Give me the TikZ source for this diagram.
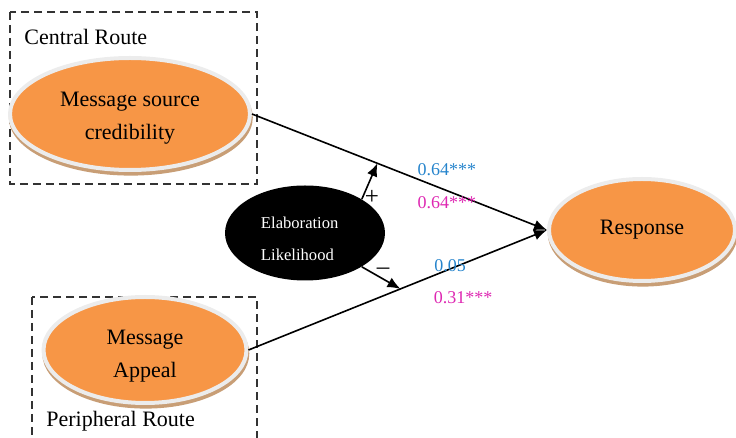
\documentclass[tikz,border=0pt]{standalone}
\usepackage{fontspec}
\setmainfont{Liberation Serif}
\usepackage{xcolor}
\usepackage{tikz}
\usetikzlibrary{shapes,arrows.meta,shadows}

\definecolor{orangefill}{RGB}{247,150,70}
\definecolor{ringgray}{RGB}{236,236,236}
\definecolor{shadowtan}{RGB}{200,158,118}
\definecolor{coefblue}{RGB}{38,132,204}
\definecolor{coefpink}{RGB}{222,40,178}
\newcommand{\padtop}[1]{\rule{0pt}{#1}}

\begin{document}
\begin{tikzpicture}[x=0.5pt,y=-0.5pt]
	\tikzstyle{common} = [ellipse, inner sep=0, align=center]
	\tikzstyle{construct} = [common, draw=ringgray, line width=2pt, fill=orangefill, general shadow={fill=shadowtan, draw=shadowtan, line width=2pt, shadow yshift=-1.8pt, shadow xshift=0.4pt}, font=\fontsize{11}{16.5}\selectfont]
	\tikzstyle{moderator} = [common, fill=black, text=white, text width=44pt, align=left, font=\fontsize{8.3}{16}\selectfont]
	\tikzstyle{routebox} = [draw=black!80, dash pattern=on 4pt off 2.5pt, line width=0.6pt]
	\tikzstyle{routelabel} = [anchor=west, inner sep=0, font=\fontsize{11}{13}\selectfont]
	\tikzstyle{coef} = [inner sep=0, font=\fontsize{9}{11}\selectfont]
	\tikzstyle{sign} = [inner sep=0, font=\fontsize{12.5}{14}\selectfont]
	\tikzstyle{line} = [draw, line width=0.8pt, -{Latex[length=6.5pt,width=5.4pt]}]

	\useasboundingbox (0,0) rectangle (736,438);

	% route boxes
	\draw[routebox] (10,12) rectangle (257,184);
	\draw[routebox] (32,297) rectangle (257,470);
	\node[routelabel] (central) at (24,37) {Central Route};
	\node[routelabel] (peripheral) at (46,421) {Peripheral Route};

	\node[construct, minimum width=120pt, minimum height=56pt] (source) at (130,114) {\padtop{11pt}Message source\\credibility};
	\node[construct, minimum width=101.5pt, minimum height=53pt] (appeal) at (145,350) {\padtop{13.5pt}Message\\Appeal};
	\node[construct, minimum width=93pt, minimum height=51pt] (resp) at (642,230) {Response};
	\node[moderator, minimum width=80pt, minimum height=47.5pt] (elab) at (305,233) {\padtop{12pt}Elaboration\\Likelihood};

	\draw[line] (source.east) -- (resp.west) coordinate[pos=0.425] (hit1);
	\draw[line] (appeal.east) -- (resp.west) coordinate[pos=0.509] (hit2);
	\draw[line] (elab.north east) -- (hit1);
	\draw[line] (elab.south east) -- (hit2);

	\node[sign] (plus) at (372,197) {+};
	\node[sign] (minus) at (383,271) {--};
	\node[coef, text=coefblue] (c1) at (447,170) {0.64***};
	\node[coef, text=coefpink] (c2) at (447,203) {0.64***};
	\node[coef, text=coefblue] (c3) at (450,266) {0.05};
	\node[coef, text=coefpink] (c4) at (463,298) {0.31***};
\end{tikzpicture}
\end{document}
